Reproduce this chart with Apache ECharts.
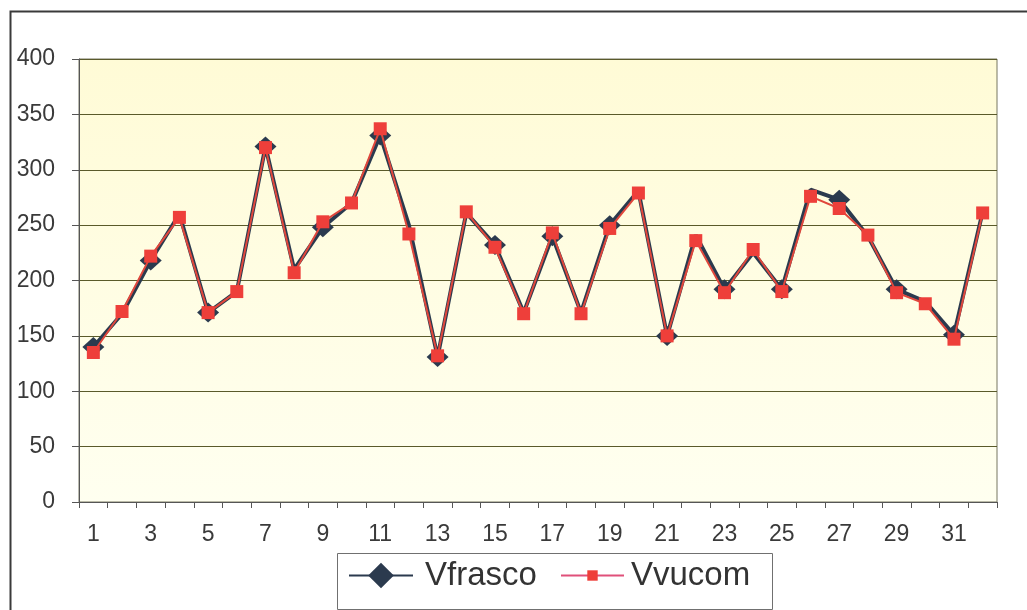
<!DOCTYPE html>
<html>
<head>
<meta charset="utf-8">
<script src="https://cdn.jsdelivr.net/npm/echarts@6/dist/echarts.min.js"></script>
<style>
html,body{margin:0;padding:0;background:#fff;}
#c{width:1027px;height:610px;}
</style>
</head>
<body>
<div id="c"></div>
<script>
const categories = ['1','2','3','4','5','6','7','8','9','10','11','12','13','14','15','16','17','18','19','20','21','22','23','24','25','26','27','28','29','30','31','32'];
const vfrasco = [140,170,218,260,171,190,321,210,248,270,331,250,131,261,232,171,240,171,250,281,150,241,192,225,192,282,273,240,192,181,151,262];
const vvucom  = [135,172,222,257,171,190,320,207,253,270,337,242,132,262,230,170,243,170,247,279,150,236,189,228,190,276,265,241,189,179,147,261];
const yTicks = {min:0, max:400, interval:50};

const chart = echarts.init(document.getElementById('c'), null, {renderer:'canvas'});
const font = 'Liberation Sans, Arial, sans-serif';
chart.setOption({
  animation:false,
  backgroundColor:'#ffffff',
  graphic:[{
    type:'rect', left:8, top:9, z:-1,
    shape:{width:1060, height:700},
    style:{fill:'none', stroke:'#3a3a3a', lineWidth:2}
  },{
    type:'rect', left:337, top:553, z:-1,
    shape:{width:435, height:56},
    style:{fill:'#ffffff', stroke:'#707070', lineWidth:1}
  }],
  grid:{
    left:79, top:59, width:918, height:443,
    show:true,
    borderColor:'#777760', borderWidth:1,
    backgroundColor:{type:'linear',x:0,y:0,x2:0,y2:1,colorStops:[{offset:0,color:'#fffbd6'},{offset:1,color:'#fffff0'}]}
  },
  legend:[{
    left:348, top:559, padding:0,
    itemWidth:64, itemHeight:32,
    textStyle:{fontFamily:font, fontSize:33, color:'#333333', padding:[0,0,0,7]},
    data:['Vfrasco']
  },{
    left:560, top:559, padding:0,
    itemWidth:63, itemHeight:13,
    lineStyle:{color:'#e0507a'},
    textStyle:{fontFamily:font, fontSize:33, color:'#333333', padding:[0,0,0,2]},
    data:['Vvucom']
  }],
  xAxis:{
    type:'category', data:categories, boundaryGap:true,
    axisLine:{lineStyle:{color:'#555555', width:1}},
    axisTick:{show:true, interval:0, length:6, lineStyle:{color:'#555555'}},
    axisLabel:{interval:1, fontFamily:font, fontSize:23, color:'#3a3a3a', margin:21},
    splitLine:{show:false}
  },
  yAxis:{
    type:'value', min:yTicks.min, max:yTicks.max, interval:yTicks.interval,
    axisLine:{show:true, lineStyle:{color:'#555555', width:1}},
    axisTick:{show:true, length:7, lineStyle:{color:'#555555'}},
    axisLabel:{fontFamily:font, fontSize:23, color:'#3a3a3a', margin:24},
    splitLine:{show:true, lineStyle:{color:'#5a5a2a', width:1}}
  },
  series:[
    {
      name:'Vfrasco', type:'line', data:vfrasco,
      symbol:'diamond', symbolSize:[22,20],
      lineStyle:{color:'#2b3a4e', width:4},
      itemStyle:{color:'#2b3a4e'},
      z:2
    },
    {
      name:'Vvucom', type:'line', data:vvucom,
      symbol:'rect', symbolSize:13,
      lineStyle:{color:'#e0473c', width:2},
      itemStyle:{color:'#ee3f3a'},
      z:3
    }
  ]
});
</script>
</body>
</html>
